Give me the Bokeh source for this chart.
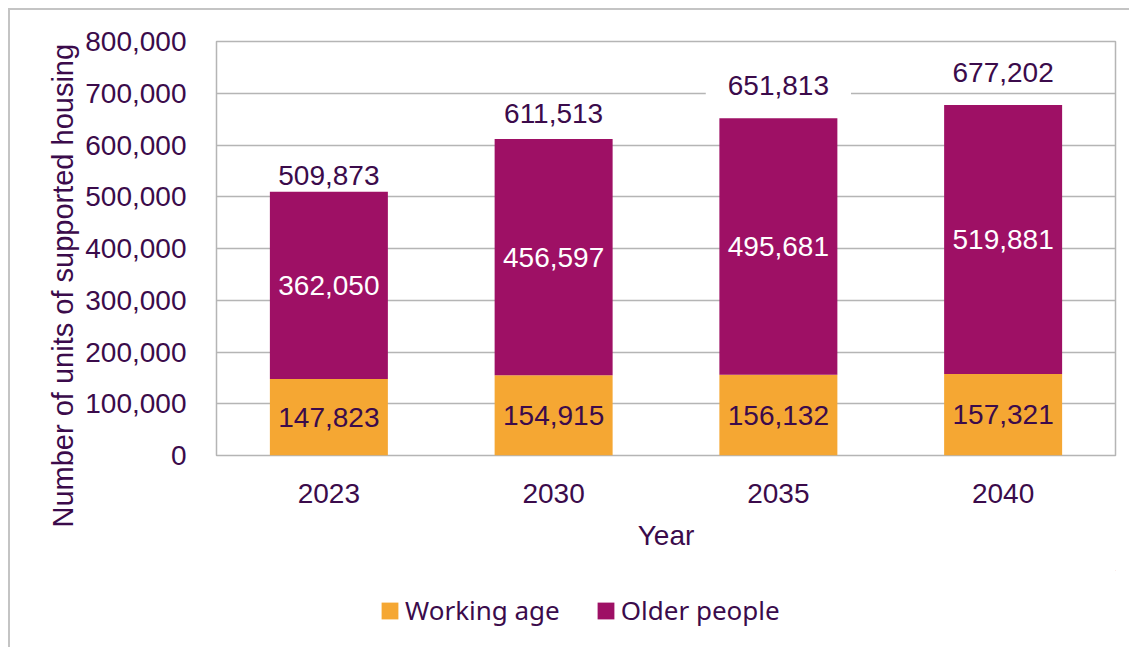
from bokeh.plotting import figure
from bokeh.layouts import column
from bokeh.models import ColumnDataSource, Legend, LegendItem, NumeralTickFormatter, FixedTicker, Title
from bokeh.embed import file_html
from bokeh.resources import INLINE
from bokeh.core.properties import value

years = ["2023", "2030", "2035", "2040"]
working_age = [147823, 154915, 156132, 157321]
older_people = [362050, 456597, 495681, 519881]
totals = [509873, 611513, 651813, 677202]
y_ticks = [0, 100000, 200000, 300000, 400000, 500000, 600000, 700000, 800000]
series_names = ["Working age", "Older people"]

# styling: how far (px) each total label is lifted above its bar
total_label_lift = [-3, -12, -19, -19]

ORANGE = "#F5A733"
PURPLE = "#9E1065"
TEXT = "#3B0B4B"
GRID = "#b5b5b5"
NUM_FONT = "Liberation Sans"
FS = "28px"

src = ColumnDataSource(dict(
    year=years,
    working=working_age,
    older=older_people,
    total=totals,
    lift=total_label_lift,
    mid_w=[w / 2 for w in working_age],
    mid_o=[w + o / 2 for w, o in zip(working_age, older_people)],
    lab_w=[f"{v:,}" for v in working_age],
    lab_o=[f"{v:,}" for v in older_people],
    lab_t=[f"{v:,}" for v in totals],
))

p = figure(x_range=years, y_range=(0, 800000), width=1119, height=560,
           output_backend="svg", toolbar_location=None,
           min_border_left=206, min_border_right=14, min_border_top=31, min_border_bottom=115)

r = p.vbar_stack(["working", "older"], x="year", width=0.525, source=src,
                 color=[ORANGE, PURPLE], line_color=None)

p.text(x="year", y="mid_w", text="lab_w", source=src, text_align="center", text_baseline="middle",
       text_font=value(NUM_FONT), text_font_size=FS, text_color=TEXT)
p.text(x="year", y="mid_o", text="lab_o", source=src, text_align="center", text_baseline="middle",
       text_font=value(NUM_FONT), text_font_size=FS, text_color="white")
p.text(x="year", y="total", text="lab_t", source=src, text_align="center", text_baseline="bottom",
       y_offset="lift", text_font=value(NUM_FONT), text_font_size=FS, text_color=TEXT,
       background_fill_color="white", padding=(22, 4))

p.xgrid.grid_line_color = None
p.ygrid.grid_line_color = GRID
p.ygrid.grid_line_width = 1.5
p.outline_line_color = GRID
p.outline_line_width = 1.5

p.yaxis.ticker = FixedTicker(ticks=y_ticks)
p.yaxis.formatter = NumeralTickFormatter(format="0,0")
p.xaxis.axis_label = "Year"
for ax in (p.xaxis, p.yaxis):
    ax.axis_line_color = None
    ax.major_tick_line_color = None
    ax.minor_tick_line_color = None
    ax.major_label_text_font = NUM_FONT
    ax.major_label_text_font_size = FS
    ax.major_label_text_color = TEXT
    ax.axis_label_text_font = NUM_FONT
    ax.axis_label_text_font_size = FS
    ax.axis_label_text_font_style = "normal"
    ax.axis_label_text_color = TEXT
p.yaxis.major_label_standoff = 24
p.xaxis.major_label_standoff = 22
p.xaxis.axis_label_standoff = 14

ytitle = Title(text="Number of units of supported housing", align="left", offset=-72,
               text_font=NUM_FONT, text_font_size="29px", text_font_style="normal",
               text_color=TEXT, standoff=8)
p.add_layout(ytitle, "left")

# legend strip below the chart (legend swatches only, placed outside the visible range)
pl = figure(width=1119, height=77, x_range=(0, 1), y_range=(0, 1),
            output_backend="svg", toolbar_location=None, min_border=0)
pl.axis.visible = False
pl.grid.grid_line_color = None
pl.outline_line_color = None
sw_w = pl.vbar(x=[5], top=[5], bottom=[4], width=0.1, color=ORANGE, line_color=None)
sw_o = pl.vbar(x=[5], top=[5], bottom=[4], width=0.1, color=PURPLE, line_color=None)
legend = Legend(items=[LegendItem(label=series_names[0], renderers=[sw_w]),
                       LegendItem(label=series_names[1], renderers=[sw_o])],
                orientation="horizontal", location=(163, 19),
                glyph_width=21, glyph_height=21, label_standoff=5, spacing=35,
                padding=0, margin=0, border_line_color=None, background_fill_alpha=0,
                label_text_font="Noto Sans", label_text_font_size="26px", label_text_color=TEXT)
pl.add_layout(legend, "center")

layout = column(p, pl, spacing=0)
layout.margin = (8, 0, 0, 8)
layout.styles = {"border-left": "2px solid #c4c4c4", "border-top": "2px solid #c4c4c4"}

open("out.html", "w").write(file_html(layout, INLINE))
